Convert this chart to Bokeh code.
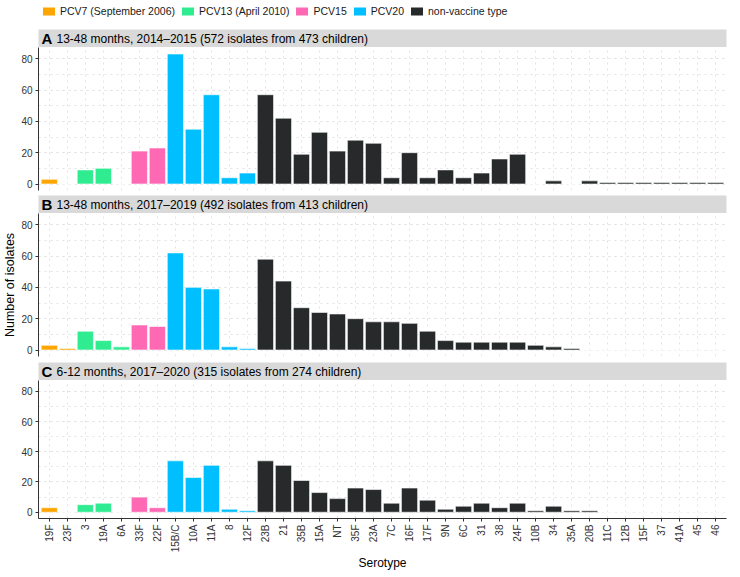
import math
from bokeh.plotting import figure
from bokeh.models import (ColumnDataSource, Range1d, FixedTicker, SingleIntervalTicker,
                          Grid, Legend, LegendItem)
from bokeh.layouts import column
from bokeh.embed import file_html
from bokeh.resources import INLINE
from bokeh.core.properties import value

# ---------------- data ----------------
serotypes = ["19F", "23F", "3", "19A", "6A", "33F", "22F", "15B/C", "10A", "11A", "8", "12F",
             "23B", "21", "35B", "15A", "NT", "35F", "23A", "7C", "16F", "17F", "9N", "6C",
             "31", "38", "24F", "10B", "34", "35A", "20B", "11C", "12B", "15F", "37", "41A",
             "45", "46"]
serotype_group = (["PCV7"] * 2 + ["PCV13"] * 3 + ["PCV15"] * 2 + ["PCV20"] * 5 + ["NVT"] * 26)

counts_A = [3, 0, 9, 10, 0, 21, 23, 83, 35, 57, 4, 7, 57, 42, 19, 33, 21, 28, 26, 4, 20, 4, 9, 4,
            7, 16, 19, 0, 2, 0, 2, 1, 1, 1, 1, 1, 1, 1]
counts_B = [3, 1, 12, 6, 2, 16, 15, 62, 40, 39, 2, 1, 58, 44, 27, 24, 23, 20, 18, 18, 17, 12, 6, 5,
            5, 5, 5, 3, 2, 1, 0, 0, 0, 0, 0, 0, 0, 0]
counts_C = [3, 0, 5, 6, 0, 10, 3, 34, 23, 31, 2, 1, 34, 31, 21, 13, 9, 16, 15, 6, 16, 8, 2, 4,
            6, 3, 6, 1, 4, 1, 1, 0, 0, 0, 0, 0, 0, 0]

group_keys = ["PCV7", "PCV13", "PCV15", "PCV20", "NVT"]
group_labels = ["PCV7 (September 2006)", "PCV13 (April 2010)", "PCV15", "PCV20", "non-vaccine type"]
group_colors = ["#FFA500", "#2EEC8F", "#FF69B4", "#00BFFF", "#262A2A"]

panel_letters = ["A", "B", "C"]
panel_titles = ["13-48 months, 2014\u20132015 (572 isolates from 473 children)",
                "13-48 months, 2017\u20132019 (492 isolates from 413 children)",
                "6-12 months, 2017\u20132020 (315 isolates from 274 children)"]
y_label = "Number of isolates"
x_label = "Serotype"

# ---------------- styling ----------------
FONT = "Liberation Sans"
W = 729
LEFT = 30
RIGHT = 3
AXIS_COL = "#333333"
GRID_COL = "#E2E2E2"
color_of = dict(zip(group_keys, group_colors))
idx = list(range(len(serotypes)))
X_RANGE = Range1d(-0.6, len(serotypes) - 1 + 0.6)
Y_RANGE = Range1d(-4.15, 87.15)


def base_fig(height, **kw):
    p = figure(width=W, height=height, output_backend="svg", toolbar_location=None,
               min_border_left=LEFT, min_border_right=RIGHT, min_border_top=0,
               min_border_bottom=0, outline_line_color=None, **kw)
    p.grid.visible = False
    return p


def legend_fig():
    p = base_fig(29, x_range=Range1d(0, 1), y_range=Range1d(0, 1),
                 x_axis_location=None, y_axis_location=None)
    items = []
    for lab, col in zip(group_labels, group_colors):
        # zero-height placeholder bar, only used to draw the legend key
        r = p.vbar(x=[0.5], top=[0], bottom=0, width=0.01, fill_color=col, line_color=None)
        items.append(LegendItem(label=lab, renderers=[r]))
    leg = Legend(items=items, orientation="horizontal", location=(3, 12),
                 glyph_width=15, glyph_height=10, label_height=12, label_width=10,
                 label_standoff=4, spacing=5, padding=0, margin=0,
                 border_line_color=None, background_fill_alpha=0,
                 label_text_font=FONT, label_text_font_size="10.5px",
                 label_text_color="#1A1A1A")
    p.add_layout(leg)
    return p


def strip_fig(letter, title):
    p = base_fig(18, x_range=Range1d(0, 1), y_range=Range1d(0, 1),
                 x_axis_location=None, y_axis_location=None,
                 background_fill_color="#D9D9D9")
    p.text(x=[0], y=[0.5], text=[letter], x_offset=3, text_font=value(FONT),
           text_font_size="15px", text_font_style="bold", text_baseline="middle",
           text_color="black")
    p.text(x=[0], y=[0.5], text=[title], x_offset=18, text_font=value(FONT),
           text_font_size="12px", text_baseline="middle", text_color="black")
    return p


def panel_fig(counts, height, show_x, ylab):
    p = base_fig(height, x_range=X_RANGE, y_range=Y_RANGE,
                 x_axis_location="below" if show_x else None)
    yt = SingleIntervalTicker(interval=20, num_minor_ticks=2)
    p.add_layout(Grid(dimension=0, ticker=FixedTicker(ticks=idx),
                      grid_line_color=GRID_COL, grid_line_dash="dotted", grid_line_width=1))
    p.add_layout(Grid(dimension=1, ticker=yt,
                      grid_line_color=GRID_COL, grid_line_dash="dotted",
                      minor_grid_line_color=GRID_COL, minor_grid_line_dash="dotted"))

    src = ColumnDataSource(dict(x=idx, top=counts,
                                color=[color_of[g] for g in serotype_group]))
    p.vbar(x="x", top="top", bottom=0, width=0.9, fill_color="color",
           line_color="white", line_width=0.6, source=src)

    ax = p.yaxis[0]
    ax.ticker = yt
    ax.axis_label = ylab
    ax.axis_label_text_font = FONT
    ax.axis_label_text_font_size = "12.5px"
    ax.axis_label_text_font_style = "normal"
    ax.axis_label_text_color = "black"
    ax.axis_label_standoff = 1
    ax.major_label_text_font = FONT
    ax.major_label_text_font_size = "10px"
    ax.major_label_text_color = "#333333"
    ax.major_label_standoff = 2
    ax.axis_line_color = AXIS_COL
    ax.major_tick_line_color = AXIS_COL
    ax.major_tick_out = 3
    ax.major_tick_in = 0
    ax.minor_tick_line_color = None

    if show_x:
        xa = p.xaxis[0]
        xa.ticker = FixedTicker(ticks=idx)
        xa.major_label_overrides = {i: s for i, s in zip(idx, serotypes)}
        xa.major_label_orientation = math.pi / 2
        xa.major_label_text_font = FONT
        xa.major_label_text_font_size = "10px"
        xa.major_label_text_color = "#333333"
        xa.major_label_standoff = 3
        xa.axis_line_color = AXIS_COL
        xa.major_tick_line_color = AXIS_COL
        xa.major_tick_out = 3
        xa.major_tick_in = 0
        xa.minor_tick_line_color = None
        xa.axis_label = x_label
        xa.axis_label_text_font = FONT
        xa.axis_label_text_font_size = "12px"
        xa.axis_label_text_font_style = "normal"
        xa.axis_label_text_color = "black"
        xa.axis_label_standoff = 1
    return p


legend = legend_fig()
sA = strip_fig(panel_letters[0], panel_titles[0])
pA = panel_fig(counts_A, 148, False, " ")
pA.min_border_bottom = 5
sB = strip_fig(panel_letters[1], panel_titles[1])
pB = panel_fig(counts_B, 149, False, y_label)
pB.min_border_bottom = 6
sC = strip_fig(panel_letters[2], panel_titles[2])
pC = panel_fig(counts_C, 193, True, " ")

layout = column(legend, sA, pA, sB, pB, sC, pC, spacing=0)
open("out.html", "w").write(file_html(layout, INLINE))
